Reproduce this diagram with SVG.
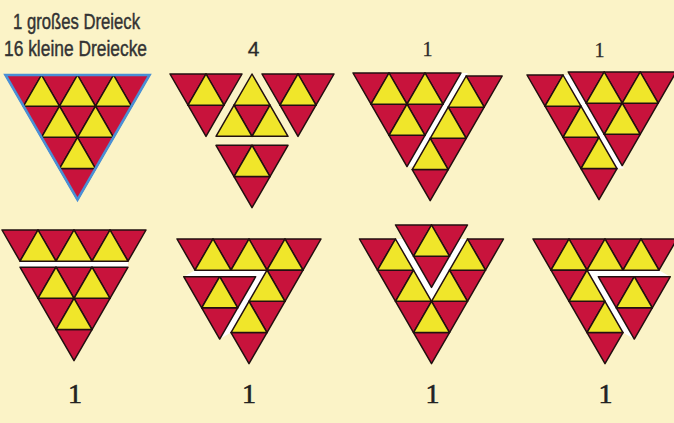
<svg xmlns="http://www.w3.org/2000/svg" xmlns:xlink="http://www.w3.org/1999/xlink" width="674" height="423" viewBox="0 0 674 423">
<style>
.r{fill:#C8133C;stroke:#221010;stroke-width:1.5;stroke-linejoin:round}
.y{fill:#F0E62A;stroke:#221010;stroke-width:1.5;stroke-linejoin:round}
.gap{fill:#FFFFFF}
.hd{font-family:"Liberation Sans Narrow","Liberation Sans",Arial,sans-serif;font-size:22px;fill:#333;stroke:#333;stroke-width:0.45;text-anchor:middle}
.n4{font-family:"Liberation Sans",Arial,sans-serif;font-size:21px;fill:#2a2a2a;stroke:#2a2a2a;stroke-width:0.3;text-anchor:middle}
.ns{font-family:"Liberation Serif","Times New Roman",serif;font-size:20px;fill:#2a2a2a;stroke:#2a2a2a;stroke-width:0.3;text-anchor:middle}
.nb{font-family:"Liberation Serif","Times New Roman",serif;font-size:28px;fill:#222;stroke:#222;stroke-width:0.6;text-anchor:middle}
</style>
<defs>
<path id="d" class="r" d="M0,0H36L18,31.18Z"/>
<path id="u" class="y" d="M18,0L36,31.18H0Z"/>
</defs>
<rect width="674" height="423" fill="#FBF3C7"/>

<g id="fig1" transform="translate(5.5,75)">
<use href="#d" x="0" y="0"/><use href="#d" x="36" y="0"/><use href="#d" x="72" y="0"/><use href="#d" x="108" y="0"/>
<use href="#d" x="18" y="31.18"/><use href="#d" x="54" y="31.18"/><use href="#d" x="90" y="31.18"/>
<use href="#d" x="36" y="62.35"/><use href="#d" x="72" y="62.35"/><use href="#d" x="54" y="93.53"/>
<use href="#u" x="18" y="0"/><use href="#u" x="54" y="0"/><use href="#u" x="90" y="0"/>
<use href="#u" x="36" y="31.18"/><use href="#u" x="72" y="31.18"/><use href="#u" x="54" y="62.35"/>
<polygon points="0,0 144,0 72,124.7" fill="none" stroke="#4A90D6" stroke-width="2.6" stroke-linejoin="miter"/>
</g>

<g id="fig2" transform="translate(180,74)">
<g transform="translate(-10,0)">
<use href="#d" x="0" y="0"/><use href="#d" x="36" y="0"/><use href="#d" x="18" y="31.18"/><use href="#u" x="18" y="0"/>
</g>
<g>
<use href="#d" x="54" y="31.18"/><use href="#u" x="54" y="0"/><use href="#u" x="36" y="31.18"/><use href="#u" x="72" y="31.18"/>
</g>
<g transform="translate(10,0)">
<use href="#d" x="72" y="0"/><use href="#d" x="108" y="0"/><use href="#d" x="90" y="31.18"/><use href="#u" x="90" y="0"/>
</g>
<g transform="translate(0,9)">
<use href="#d" x="36" y="62.35"/><use href="#d" x="72" y="62.35"/><use href="#d" x="54" y="93.53"/><use href="#u" x="54" y="62.35"/>
</g>
</g>

<g id="fig3" transform="translate(353,73)">
<polygon class="gap" points="108,0 114.9,0 60.9,93.53 54,93.53"/>
<g>
<use href="#d" x="0" y="0"/><use href="#d" x="36" y="0"/><use href="#d" x="72" y="0"/>
<use href="#d" x="18" y="31.18"/><use href="#d" x="54" y="31.18"/><use href="#d" x="36" y="62.35"/>
<use href="#u" x="18" y="0"/><use href="#u" x="54" y="0"/><use href="#u" x="36" y="31.18"/>
</g>
<g transform="translate(5.2,3)">
<use href="#d" x="108" y="0"/><use href="#d" x="90" y="31.18"/><use href="#d" x="72" y="62.35"/><use href="#d" x="54" y="93.53"/>
<use href="#u" x="90" y="0"/><use href="#u" x="72" y="31.18"/><use href="#u" x="54" y="62.35"/>
</g>
</g>

<g id="fig4" transform="translate(527,75)">
<polygon class="gap" points="36,0 42.9,0 96.9,93.53 90,93.53"/>
<g>
<use href="#d" x="0" y="0"/><use href="#d" x="18" y="31.18"/><use href="#d" x="36" y="62.35"/><use href="#d" x="54" y="93.53"/>
<use href="#u" x="18" y="0"/><use href="#u" x="36" y="31.18"/><use href="#u" x="54" y="62.35"/>
</g>
<g transform="translate(5.2,-3)">
<use href="#d" x="36" y="0"/><use href="#d" x="72" y="0"/><use href="#d" x="108" y="0"/>
<use href="#d" x="54" y="31.18"/><use href="#d" x="90" y="31.18"/><use href="#d" x="72" y="62.35"/>
<use href="#u" x="54" y="0"/><use href="#u" x="90" y="0"/><use href="#u" x="72" y="31.18"/>
</g>
</g>

<g id="fig5" transform="translate(2,230)">
<polygon class="gap" points="18,31.18 126,31.18 126,37.18 18,37.18"/>
<g>
<use href="#d" x="0" y="0"/><use href="#d" x="36" y="0"/><use href="#d" x="72" y="0"/><use href="#d" x="108" y="0"/>
<use href="#u" x="18" y="0"/><use href="#u" x="54" y="0"/><use href="#u" x="90" y="0"/>
</g>
<g transform="translate(0,6)">
<use href="#d" x="18" y="31.18"/><use href="#d" x="54" y="31.18"/><use href="#d" x="90" y="31.18"/>
<use href="#d" x="36" y="62.35"/><use href="#d" x="72" y="62.35"/><use href="#d" x="54" y="93.53"/>
<use href="#u" x="36" y="31.18"/><use href="#u" x="72" y="31.18"/><use href="#u" x="54" y="62.35"/>
</g>
</g>

<g id="fig6" transform="translate(177,239)">
<polygon class="gap" points="18,31.18 90,31.18 54,93.53 42.7,100.03 78.7,37.68 6.7,37.68"/>
<g>
<use href="#d" x="0" y="0"/><use href="#d" x="36" y="0"/><use href="#d" x="72" y="0"/><use href="#d" x="108" y="0"/>
<use href="#u" x="18" y="0"/><use href="#u" x="54" y="0"/><use href="#u" x="90" y="0"/>
<use href="#d" x="90" y="31.18"/><use href="#d" x="72" y="62.35"/><use href="#d" x="54" y="93.53"/>
<use href="#u" x="72" y="31.18"/><use href="#u" x="54" y="62.35"/>
</g>
<g transform="translate(-11.3,6.5)">
<use href="#d" x="18" y="31.18"/><use href="#d" x="54" y="31.18"/><use href="#d" x="36" y="62.35"/><use href="#u" x="36" y="31.18"/>
</g>
</g>

<g id="fig7" transform="translate(359.5,239)">
<polygon class="gap" points="36,0 72,62.35 108,0 99.92,0 72,48.35 44.08,0"/>
<g>
<use href="#d" x="0" y="0"/><use href="#d" x="108" y="0"/>
<use href="#d" x="18" y="31.18"/><use href="#d" x="90" y="31.18"/>
<use href="#d" x="36" y="62.35"/><use href="#d" x="72" y="62.35"/><use href="#d" x="54" y="93.53"/>
<use href="#u" x="18" y="0"/><use href="#u" x="90" y="0"/>
<use href="#u" x="36" y="31.18"/><use href="#u" x="72" y="31.18"/><use href="#u" x="54" y="62.35"/>
</g>
<g transform="translate(0,-14)">
<use href="#d" x="36" y="0"/><use href="#d" x="72" y="0"/><use href="#d" x="54" y="31.18"/><use href="#u" x="54" y="0"/>
</g>
</g>

<g id="fig8" transform="translate(533,239)">
<polygon class="gap" points="126,31.18 54,31.18 90,93.53 101.3,100.03 65.3,37.68 137.3,37.68"/>
<g>
<use href="#d" x="0" y="0"/><use href="#d" x="36" y="0"/><use href="#d" x="72" y="0"/><use href="#d" x="108" y="0"/>
<use href="#u" x="18" y="0"/><use href="#u" x="54" y="0"/><use href="#u" x="90" y="0"/>
<use href="#d" x="18" y="31.18"/><use href="#d" x="36" y="62.35"/><use href="#d" x="54" y="93.53"/>
<use href="#u" x="36" y="31.18"/><use href="#u" x="54" y="62.35"/>
</g>
<g transform="translate(11.3,6.5)">
<use href="#d" x="54" y="31.18"/><use href="#d" x="90" y="31.18"/><use href="#d" x="72" y="62.35"/><use href="#u" x="72" y="31.18"/>
</g>
</g>

<g id="labels">
<text class="hd" x="76.5" y="29" textLength="127" lengthAdjust="spacingAndGlyphs">1 großes Dreieck</text>
<text class="hd" x="75.5" y="56" textLength="143" lengthAdjust="spacingAndGlyphs">16 kleine Dreiecke</text>
<text class="n4" x="253.5" y="56">4</text>
<text class="ns" x="427.5" y="56">1</text>
<text class="ns" x="599.5" y="56.5">1</text>
<text class="nb" x="75" y="403">1</text>
<text class="nb" x="249" y="403">1</text>
<text class="nb" x="432.5" y="403">1</text>
<text class="nb" x="605.5" y="403">1</text>
</g>
</svg>
